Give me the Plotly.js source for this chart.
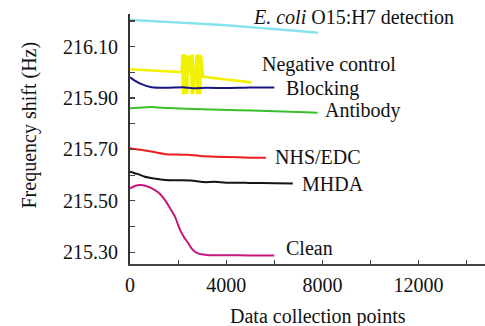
<!DOCTYPE html>
<html>
<head>
<meta charset="utf-8">
<script src="https://cdn.plot.ly/plotly-3.0.1.min.js"></script>
<style>html,body{margin:0;padding:0;background:#fff;}#chart{width:485px;height:326px;}</style>
</head>
<body>
<div id="chart"></div>
<script>
// ---- data ----
const ecoliX = [0, 1200, 2560, 4000, 5500, 7000, 7820];
const ecoliY = [216.204, 216.198, 216.191, 216.183, 216.172, 216.161, 216.154];

const negX = [0, 1000, 2000, 2150,
  2180, 2200, 2230, 2260, 2290, 2320, 2350, 2380, 2410,
  2480,
  2540, 2570, 2600, 2630,
  2700,
  2770, 2800, 2830, 2860, 2890, 2920, 2950,
  3040, 4000, 5050];
const negY = [216.012, 216.008, 216.003, 216.001,
  216.070, 215.915, 216.068, 215.918, 216.070, 215.915, 216.066, 215.918, 216.065,
  215.997,
  216.068, 215.915, 216.070, 215.918,
  215.992,
  216.068, 215.915, 216.070, 215.918, 216.066, 215.915, 216.068,
  215.983, 215.972, 215.961];

const blockX = [0, 200, 480, 900, 1500, 2200, 2600, 3200, 4000, 5000, 6000];
const blockY = [215.981, 215.968, 215.954, 215.942, 215.940, 215.942, 215.938, 215.940, 215.939, 215.941, 215.941];

const abX = [0, 500, 900, 1600, 3000, 4500, 5700, 7000, 7800];
const abY = [215.860, 215.863, 215.865, 215.861, 215.856, 215.853, 215.850, 215.846, 215.843];

const nhsX = [0, 500, 1000, 1500, 2000, 2400, 2900, 4000, 5000, 5650];
const nhsY = [215.705, 215.698, 215.690, 215.681, 215.680, 215.679, 215.675, 215.671, 215.668, 215.668];

const mhdaX = [0, 300, 620, 1000, 1460, 2000, 2550, 2800, 3100, 3500, 4000, 5000, 6000, 6770];
const mhdaY = [215.614, 215.605, 215.594, 215.587, 215.581, 215.580, 215.579, 215.576, 215.573, 215.574, 215.571, 215.570, 215.569, 215.568];

const cleanX = [0, 200, 415, 700, 1040, 1250, 1455, 1650, 1870, 2080, 2250, 2425, 2560, 2700, 2850, 2980, 3300, 4000, 5000, 6000];
const cleanY = [215.549, 215.558, 215.562, 215.557, 215.542, 215.527, 215.503, 215.474, 215.439, 215.387, 215.358, 215.335, 215.315, 215.302, 215.295, 215.292, 215.289, 215.289, 215.288, 215.288];

const seriesNames = ['E. coli O15:H7 detection', 'Negative control', 'Blocking', 'Antibody', 'NHS/EDC', 'MHDA', 'Clean'];
const seriesColors = ['#86e3ee', '#f2f200', '#16167e', '#3cbf2a', '#ee1c1c', '#141414', '#c8157f'];
const seriesWidths = [2.4, 2.6, 2, 2, 2, 2, 2];

const labelX = [5031, 5405, 6403, 8037, 5958, 7069, 6403];
const labelY = [216.214, 216.031, 215.939, 215.851, 215.669, 215.566, 215.317];
const labelText = ['<i>E. coli</i> O15:H7 detection', 'Negative control', 'Blocking', 'Antibody', 'NHS/EDC', 'MHDA', 'Clean'];

const xTickVals = [0, 2000, 4000, 6000, 8000, 10000, 12000, 14000];
const xTickText = ['0', '', '4000', '', '8000', '', '12000', ''];
const yTickVals = [215.3, 215.4, 215.5, 215.6, 215.7, 215.8, 215.9, 216.0, 216.1, 216.2];
const yTickText = ['215.30', '', '215.50', '', '215.70', '', '215.90', '', '216.10', ''];

const xTitle = 'Data collection points';
const yTitle = 'Frequency shift (Hz)';

// ---- build ----
const xs = [ecoliX, negX, blockX, abX, nhsX, mhdaX, cleanX];
const ys = [ecoliY, negY, blockY, abY, nhsY, mhdaY, cleanY];
const traces = xs.map((x, i) => ({
  x: x, y: ys[i], type: 'scatter', mode: 'lines', name: seriesNames[i],
  line: {color: seriesColors[i], width: seriesWidths[i], shape: (i === 1 ? 'linear' : 'spline'), smoothing: 0.6},
  hoverinfo: 'skip'
}));

const font = {family: 'Liberation Serif, Times New Roman, serif', size: 20, color: '#111'};

const annotations = labelText.map((t, i) => ({
  x: labelX[i], y: labelY[i], xref: 'x', yref: 'y', text: t,
  showarrow: false, xanchor: 'left', yanchor: 'middle', font: font
}));
annotations.push({x: 0.5296, y: -0.208, xref: 'paper', yref: 'paper', text: xTitle, showarrow: false,
  xanchor: 'center', yanchor: 'middle', font: font});
annotations.push({x: -0.2845, y: 0.554, xref: 'paper', yref: 'paper', text: yTitle, showarrow: false,
  xanchor: 'center', yanchor: 'middle', textangle: -90, font: font});

const layout = {
  width: 485, height: 326,
  margin: {l: 130, r: 0, t: 14, b: 62, pad: 0},
  paper_bgcolor: '#fff', plot_bgcolor: '#fff',
  showlegend: false,
  font: font,
  xaxis: {
    range: [0, 14760], showgrid: false, zeroline: false,
    showline: true, linecolor: '#444', linewidth: 1.5,
    ticks: 'inside', ticklen: 4, tickwidth: 1.2, tickcolor: '#444',
    tickmode: 'array', tickvals: xTickVals, ticktext: xTickText,
    tickfont: font, ticklabelstandoff: 2
  },
  yaxis: {
    range: [215.2545, 216.227], showgrid: false, zeroline: false,
    showline: true, linecolor: '#333', linewidth: 2,
    ticks: 'inside', ticklen: 5, tickwidth: 1.2, tickcolor: '#444',
    tickmode: 'array', tickvals: yTickVals, ticktext: yTickText,
    tickfont: font, ticklabelstandoff: 6
  },
  annotations: annotations
};

Plotly.newPlot('chart', traces, layout, {staticPlot: true, displayModeBar: false});
</script>
</body>
</html>
